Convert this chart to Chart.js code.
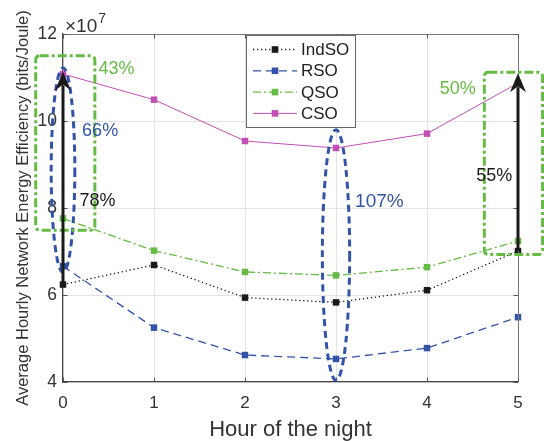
<!DOCTYPE html>
<html>
<head>
<meta charset="utf-8">
<script src="https://cdn.jsdelivr.net/npm/chart.js@4"></script>
<style>
  html, body { margin: 0; padding: 0; background: #fff; }
  #wrap { width: 544px; height: 441px; }
</style>
</head>
<body>
<div id="wrap"><canvas id="chart" width="544" height="441"></canvas></div>
<script>
// values in units of 10^7 bits/Joule
const hours = [0, 1, 2, 3, 4, 5];
const indso = [6.24, 6.69, 5.94, 5.83, 6.11, 7.01];
const rso = [6.66, 5.25, 4.62, 4.53, 4.78, 5.49];
const qso = [7.76, 7.02, 6.53, 6.45, 6.64, 7.24];
const cso = [11.08, 10.49, 9.54, 9.38, 9.71, 10.87];
const yTicks = [4, 6, 8, 10, 12];

const black = '#1a1a1a';
const blue = '#3253a8';
const green = '#66bb44';
const magenta = '#c24fb3';
const textColor = '#333333';
const FONT = '"Liberation Sans", Arial, Helvetica, sans-serif';

// annotation shapes, in axis units
const boxes = [
    { x0: -0.30, x1: 0.35, y0: 7.49, y1: 11.50 },
    { x0: 4.63, x1: 5.27, y0: 6.93, y1: 11.12 }
];
const ellipses = [
    { x: 0, rx: 0.13, y0: 6.52, y1: 11.22 },
    { x: 3, rx: 0.15, y0: 4.04, y1: 9.80 }
];
const arrows = [
    { x: 0, from: indso[0], to: 11.14 },
    { x: 5, from: indso[5], to: 11.10 }
];
const notes = [
    { text: '43%', x: 0.39, y: 11.2, color: green },
    { text: '66%', x: 0.21, y: 9.78, color: blue },
    { text: '78%', x: 0.18, y: 8.15, color: black },
    { text: '107%', x: 3.21, y: 8.15, color: blue },
    { text: '50%', x: 4.14, y: 10.74, color: green },
    { text: '55%', x: 4.54, y: 8.74, color: black }
];

function pts(vals) {
    return hours.map((h, i) => ({ x: h, y: vals[i] }));
}

function series(label, vals, color, dash, width) {
    return {
        label,
        data: pts(vals),
        borderColor: color,
        backgroundColor: color,
        borderWidth: width,
        borderDash: dash,
        pointStyle: 'rect',
        pointRadius: 4.6,
        pointBorderWidth: 0,
        pointBackgroundColor: color,
        tension: 0,
        clip: false
    };
}

const annotate = {
    id: 'annotate',
    afterDatasetsDraw(chart) {
        const ctx = chart.ctx;
        const xs = chart.scales.x, ys = chart.scales.y;
        const area = chart.chartArea;
        ctx.save();

        // top / right box lines and inward ticks
        ctx.strokeStyle = '#777';
        ctx.lineWidth = 1;
        ctx.beginPath();
        ctx.moveTo(area.left, area.top + 0.5);
        ctx.lineTo(area.right + 0.5, area.top + 0.5);
        ctx.lineTo(area.right + 0.5, area.bottom);
        ctx.stroke();
        ctx.strokeStyle = '#555';
        ctx.beginPath();
        hours.forEach(h => {
            const px = Math.round(xs.getPixelForValue(h)) + 0.5;
            ctx.moveTo(px, area.bottom); ctx.lineTo(px, area.bottom - 4.5);
            ctx.moveTo(px, area.top); ctx.lineTo(px, area.top + 4.5);
        });
        yTicks.forEach(v => {
            const py = Math.round(ys.getPixelForValue(v)) + 0.5;
            ctx.moveTo(area.left, py); ctx.lineTo(area.left + 4.5, py);
            ctx.moveTo(area.right, py); ctx.lineTo(area.right - 4.5, py);
        });
        ctx.stroke();

        // blue dashed ellipses
        ctx.strokeStyle = blue;
        ctx.lineWidth = 3;
        ctx.setLineDash([7, 4.5]);
        ellipses.forEach(e => {
            const cx = xs.getPixelForValue(e.x);
            const rx = xs.getPixelForValue(e.x + e.rx) - cx;
            const top = ys.getPixelForValue(e.y1), bot = ys.getPixelForValue(e.y0);
            ctx.beginPath();
            ctx.ellipse(cx, (top + bot) / 2, rx, (bot - top) / 2, 0, 0, Math.PI * 2);
            ctx.stroke();
        });

        // green dash-dot boxes
        ctx.strokeStyle = green;
        ctx.setLineDash([9, 3, 3, 3]);
        boxes.forEach(b => {
            const x0 = xs.getPixelForValue(b.x0), x1 = xs.getPixelForValue(b.x1);
            const y0 = ys.getPixelForValue(b.y1), y1 = ys.getPixelForValue(b.y0);
            ctx.beginPath();
            if (ctx.roundRect) ctx.roundRect(x0, y0, x1 - x0, y1 - y0, 4);
            else ctx.rect(x0, y0, x1 - x0, y1 - y0);
            ctx.stroke();
        });
        ctx.setLineDash([]);

        // black arrows
        ctx.strokeStyle = black;
        ctx.fillStyle = black;
        arrows.forEach(a => {
            const px = xs.getPixelForValue(a.x);
            const yb = ys.getPixelForValue(a.from), yt = ys.getPixelForValue(a.to);
            ctx.lineWidth = 3;
            ctx.beginPath();
            ctx.moveTo(px, yb); ctx.lineTo(px, yt + 14);
            ctx.stroke();
            ctx.beginPath();
            ctx.moveTo(px, yt);
            ctx.lineTo(px + 8, yt + 19);
            ctx.lineTo(px, yt + 13);
            ctx.lineTo(px - 8, yt + 19);
            ctx.closePath();
            ctx.fill();
        });

        // percentage notes
        ctx.textBaseline = 'middle';
        ctx.textAlign = 'left';
        notes.forEach(n => {
            ctx.font = (n.text.length > 3 ? 19 : 18) + 'px ' + FONT;
            ctx.fillStyle = n.color;
            ctx.fillText(n.text, xs.getPixelForValue(n.x), ys.getPixelForValue(n.y));
        });

        // x10^7 exponent label
        ctx.fillStyle = textColor;
        ctx.textBaseline = 'alphabetic';
        ctx.font = '19px ' + FONT;
        ctx.fillText('\u00d710', area.left + 2, area.top - 2);
        const w = ctx.measureText('\u00d710').width;
        ctx.font = '14px ' + FONT;
        ctx.fillText('7', area.left + 3 + w, area.top - 11);

        // legend
        const lx = 246, ly = 35, lw = 109, lh = 92;
        ctx.fillStyle = '#fff';
        ctx.fillRect(lx, ly, lw, lh);
        ctx.strokeStyle = '#666';
        ctx.lineWidth = 1;
        ctx.strokeRect(lx + 0.5, ly + 0.5, lw, lh);
        chart.data.datasets.forEach((ds, i) => {
            const y = 49.5 + i * 21.3;
            ctx.strokeStyle = ds.borderColor;
            ctx.lineWidth = ds.borderWidth;
            ctx.setLineDash(ds.borderDash || []);
            ctx.beginPath();
            ctx.moveTo(253, y); ctx.lineTo(297, y);
            ctx.stroke();
            ctx.setLineDash([]);
            ctx.fillStyle = ds.borderColor;
            ctx.fillRect(275 - 3.3, y - 3.3, 6.6, 6.6);
            ctx.fillStyle = '#222';
            ctx.font = '17px ' + FONT;
            ctx.textBaseline = 'middle';
            ctx.fillText(ds.label, 301, y + 1);
        });
        ctx.restore();
    }
};

new Chart(document.getElementById('chart'), {
    type: 'line',
    data: {
        datasets: [
            series('IndSO', indso, black, [1.3, 2.7], 1.3),
            series('RSO', rso, blue, [8, 5], 1.3),
            series('QSO', qso, green, [8, 3, 2, 3], 1.3),
            series('CSO', cso, magenta, [], 1)
        ]
    },
    options: {
        responsive: false,
        animation: false,
        devicePixelRatio: 1,
        layout: { padding: { top: 34, right: 26, left: 0, bottom: 0 } },
        plugins: { legend: { display: false }, tooltip: { enabled: false } },
        scales: {
            x: {
                type: 'linear',
                min: 0,
                max: 5,
                afterFit: s => { s.height = 59; },
                afterBuildTicks: s => { s.ticks = hours.map(v => ({ value: v })); },
                ticks: { color: textColor, font: { family: FONT, size: 17 }, padding: 11 },
                grid: { color: '#e4e4e4', drawTicks: false },
                border: { color: '#444', width: 1.2 },
                title: {
                    display: true,
                    text: 'Hour of the night',
                    color: textColor,
                    font: { family: FONT, size: 22, lineHeight: 1 },
                    padding: { top: 0, bottom: 0 }
                }
            },
            y: {
                min: 4,
                max: 12,
                afterFit: s => { s.width = 63; },
                afterBuildTicks: s => { s.ticks = yTicks.map(v => ({ value: v })); },
                ticks: { color: textColor, font: { family: FONT, size: 17.5 }, padding: 6 },
                grid: { color: '#e4e4e4', drawTicks: false },
                border: { color: '#444', width: 1.2 },
                title: {
                    display: true,
                    text: 'Average Hourly Network Energy Efficiency (bits/Joule)',
                    color: textColor,
                    font: { family: FONT, size: 16.5, lineHeight: 1 },
                    padding: { top: 15, bottom: 0 }
                }
            }
        }
    },
    plugins: [annotate]
});
</script>
</body>
</html>
